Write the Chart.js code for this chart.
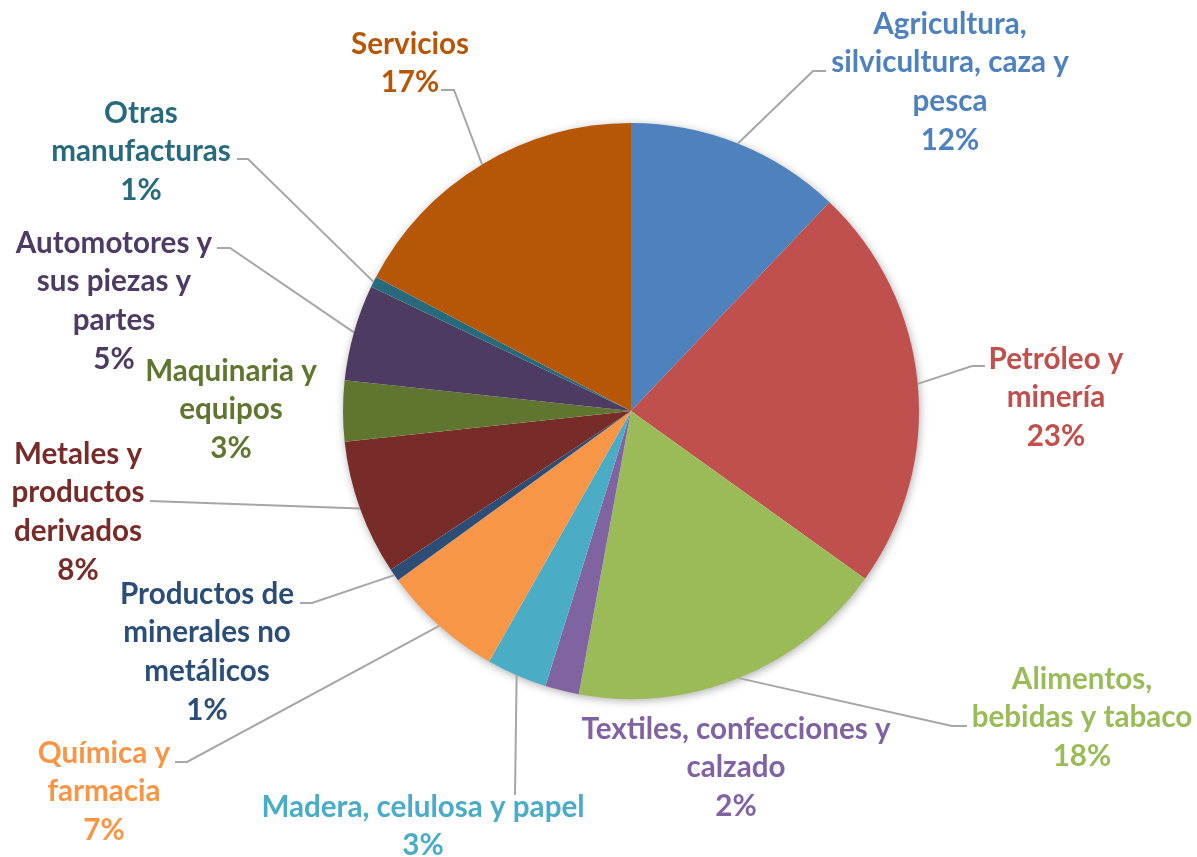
<!DOCTYPE html>
<html>
<head>
<meta charset="utf-8">
<script src="https://cdn.jsdelivr.net/npm/chart.js@4/dist/chart.umd.min.js"></script>
<style>
  html, body { margin: 0; padding: 0; background: #ffffff; }
  #wrap { width: 1197px; height: 857px; position: relative; }
</style>
</head>
<body>
<div id="wrap"><canvas id="c" width="1197" height="857"></canvas></div>
<script>
// ---- Data ----
const categories = [
  ["Agricultura,", "silvicultura, caza y", "pesca"],
  ["Petróleo y", "minería"],
  ["Alimentos,", "bebidas y tabaco"],
  ["Textiles, confecciones y", "calzado"],
  ["Madera, celulosa y papel"],
  ["Química y", "farmacia"],
  ["Productos de", "minerales no", "metálicos"],
  ["Metales y", "productos", "derivados"],
  ["Maquinaria y", "equipos"],
  ["Automotores y", "sus piezas y", "partes"],
  ["Otras", "manufacturas"],
  ["Servicios"]
];
const shares = [12.1, 22.8, 18.0, 1.9, 3.4, 6.8, 0.7, 7.6, 3.4, 5.4, 0.6, 17.3];

// ---- Styles ----
const sliceColors = ["#4F81BD", "#C0504D", "#9BBB59", "#8064A2", "#4BACC6", "#F79646",
                     "#2C4D75", "#772C2A", "#5F7530", "#4D3B62", "#276A7C", "#B65708"];
const textColors  = ["#4F81BD", "#C0504D", "#9BBB59", "#8064A2", "#4BACC6", "#F79646",
                     "#2C4D75", "#772C2A", "#5F7530", "#4D3B62", "#276A7C", "#B65708"];

// label placement: text centre x, first line centre y; leader elbow and end points
const labelLayout = [
  { x: 950,  y: 23,  elbow: [813, 71],  end: [826, 71] },
  { x: 1056, y: 358, elbow: [972, 366], end: [985, 366] },
  { x: 1082, y: 678, elbow: [952, 726], end: [967, 726] },
  { x: 736,  y: 728, elbow: null, end: null },
  { x: 423,  y: 806, elbow: [515, 795], end: [515, 795] },
  { x: 104,  y: 752, elbow: [187, 762], end: [175, 762] },
  { x: 207,  y: 593, elbow: [312, 603], end: [300, 603] },
  { x: 78,   y: 453, elbow: [150, 501], end: [150, 501] },
  { x: 231,  y: 370, elbow: null, end: null },
  { x: 114,  y: 242, elbow: [230, 248], end: [217, 248] },
  { x: 141,  y: 112, elbow: [248, 159], end: [237, 159] },
  { x: 410,  y: 43,  elbow: [454, 90],  end: [441, 90] }
];
const FONT = "bold 29.6px Lato, 'Open Sans', sans-serif";
const LINE_H = 38.7;

const total = shares.reduce((a, b) => a + b, 0);

const shadowPlugin = {
  id: 'pieShadow',
  beforeDatasetsDraw(chart) {
    const arc = chart.getDatasetMeta(0).data[0];
    if (!arc) return;
    const ctx = chart.ctx;
    ctx.save();
    ctx.shadowColor = 'rgba(0,0,0,0.35)';
    ctx.shadowBlur = 10;
    ctx.shadowOffsetX = 1;
    ctx.shadowOffsetY = 2;
    ctx.fillStyle = '#ffffff';
    ctx.beginPath();
    ctx.arc(arc.x, arc.y, arc.outerRadius - 0.5, 0, Math.PI * 2);
    ctx.fill();
    ctx.restore();
  }
};

const labelPlugin = {
  id: 'outLabels',
  afterDatasetsDraw(chart) {
    const ctx = chart.ctx;
    const meta = chart.getDatasetMeta(0);
    ctx.save();
    meta.data.forEach((arc, i) => {
      const L = labelLayout[i];
      const mid = (arc.startAngle + arc.endAngle) / 2;
      const ex = arc.x + Math.cos(mid) * arc.outerRadius;
      const ey = arc.y + Math.sin(mid) * arc.outerRadius;
      if (L.elbow) {
        ctx.strokeStyle = '#A6A6A6';
        ctx.lineWidth = 2;
        ctx.beginPath();
        ctx.moveTo(ex, ey);
        ctx.lineTo(L.elbow[0], L.elbow[1]);
        ctx.lineTo(L.end[0], L.end[1]);
        ctx.stroke();
      }
      const lines = categories[i].concat([Math.round(shares[i] / total * 100) + '%']);
      ctx.font = FONT;
      ctx.fillStyle = textColors[i];
      ctx.textAlign = 'center';
      ctx.textBaseline = 'middle';
      lines.forEach((t, k) => {
        ctx.fillText(t, L.x, L.y + k * LINE_H + 1);
      });
    });
    ctx.restore();
  }
};

new Chart(document.getElementById('c'), {
  type: 'pie',
  data: {
    labels: categories,
    datasets: [{
      data: shares,
      backgroundColor: sliceColors,
      borderWidth: 0
    }]
  },
  options: {
    responsive: false,
    animation: false,
    layout: { padding: { left: 343, right: 278, top: 123, bottom: 158 } },
    plugins: {
      legend: { display: false },
      tooltip: { enabled: false }
    }
  },
  plugins: [shadowPlugin, labelPlugin]
});
</script>
</body>
</html>
